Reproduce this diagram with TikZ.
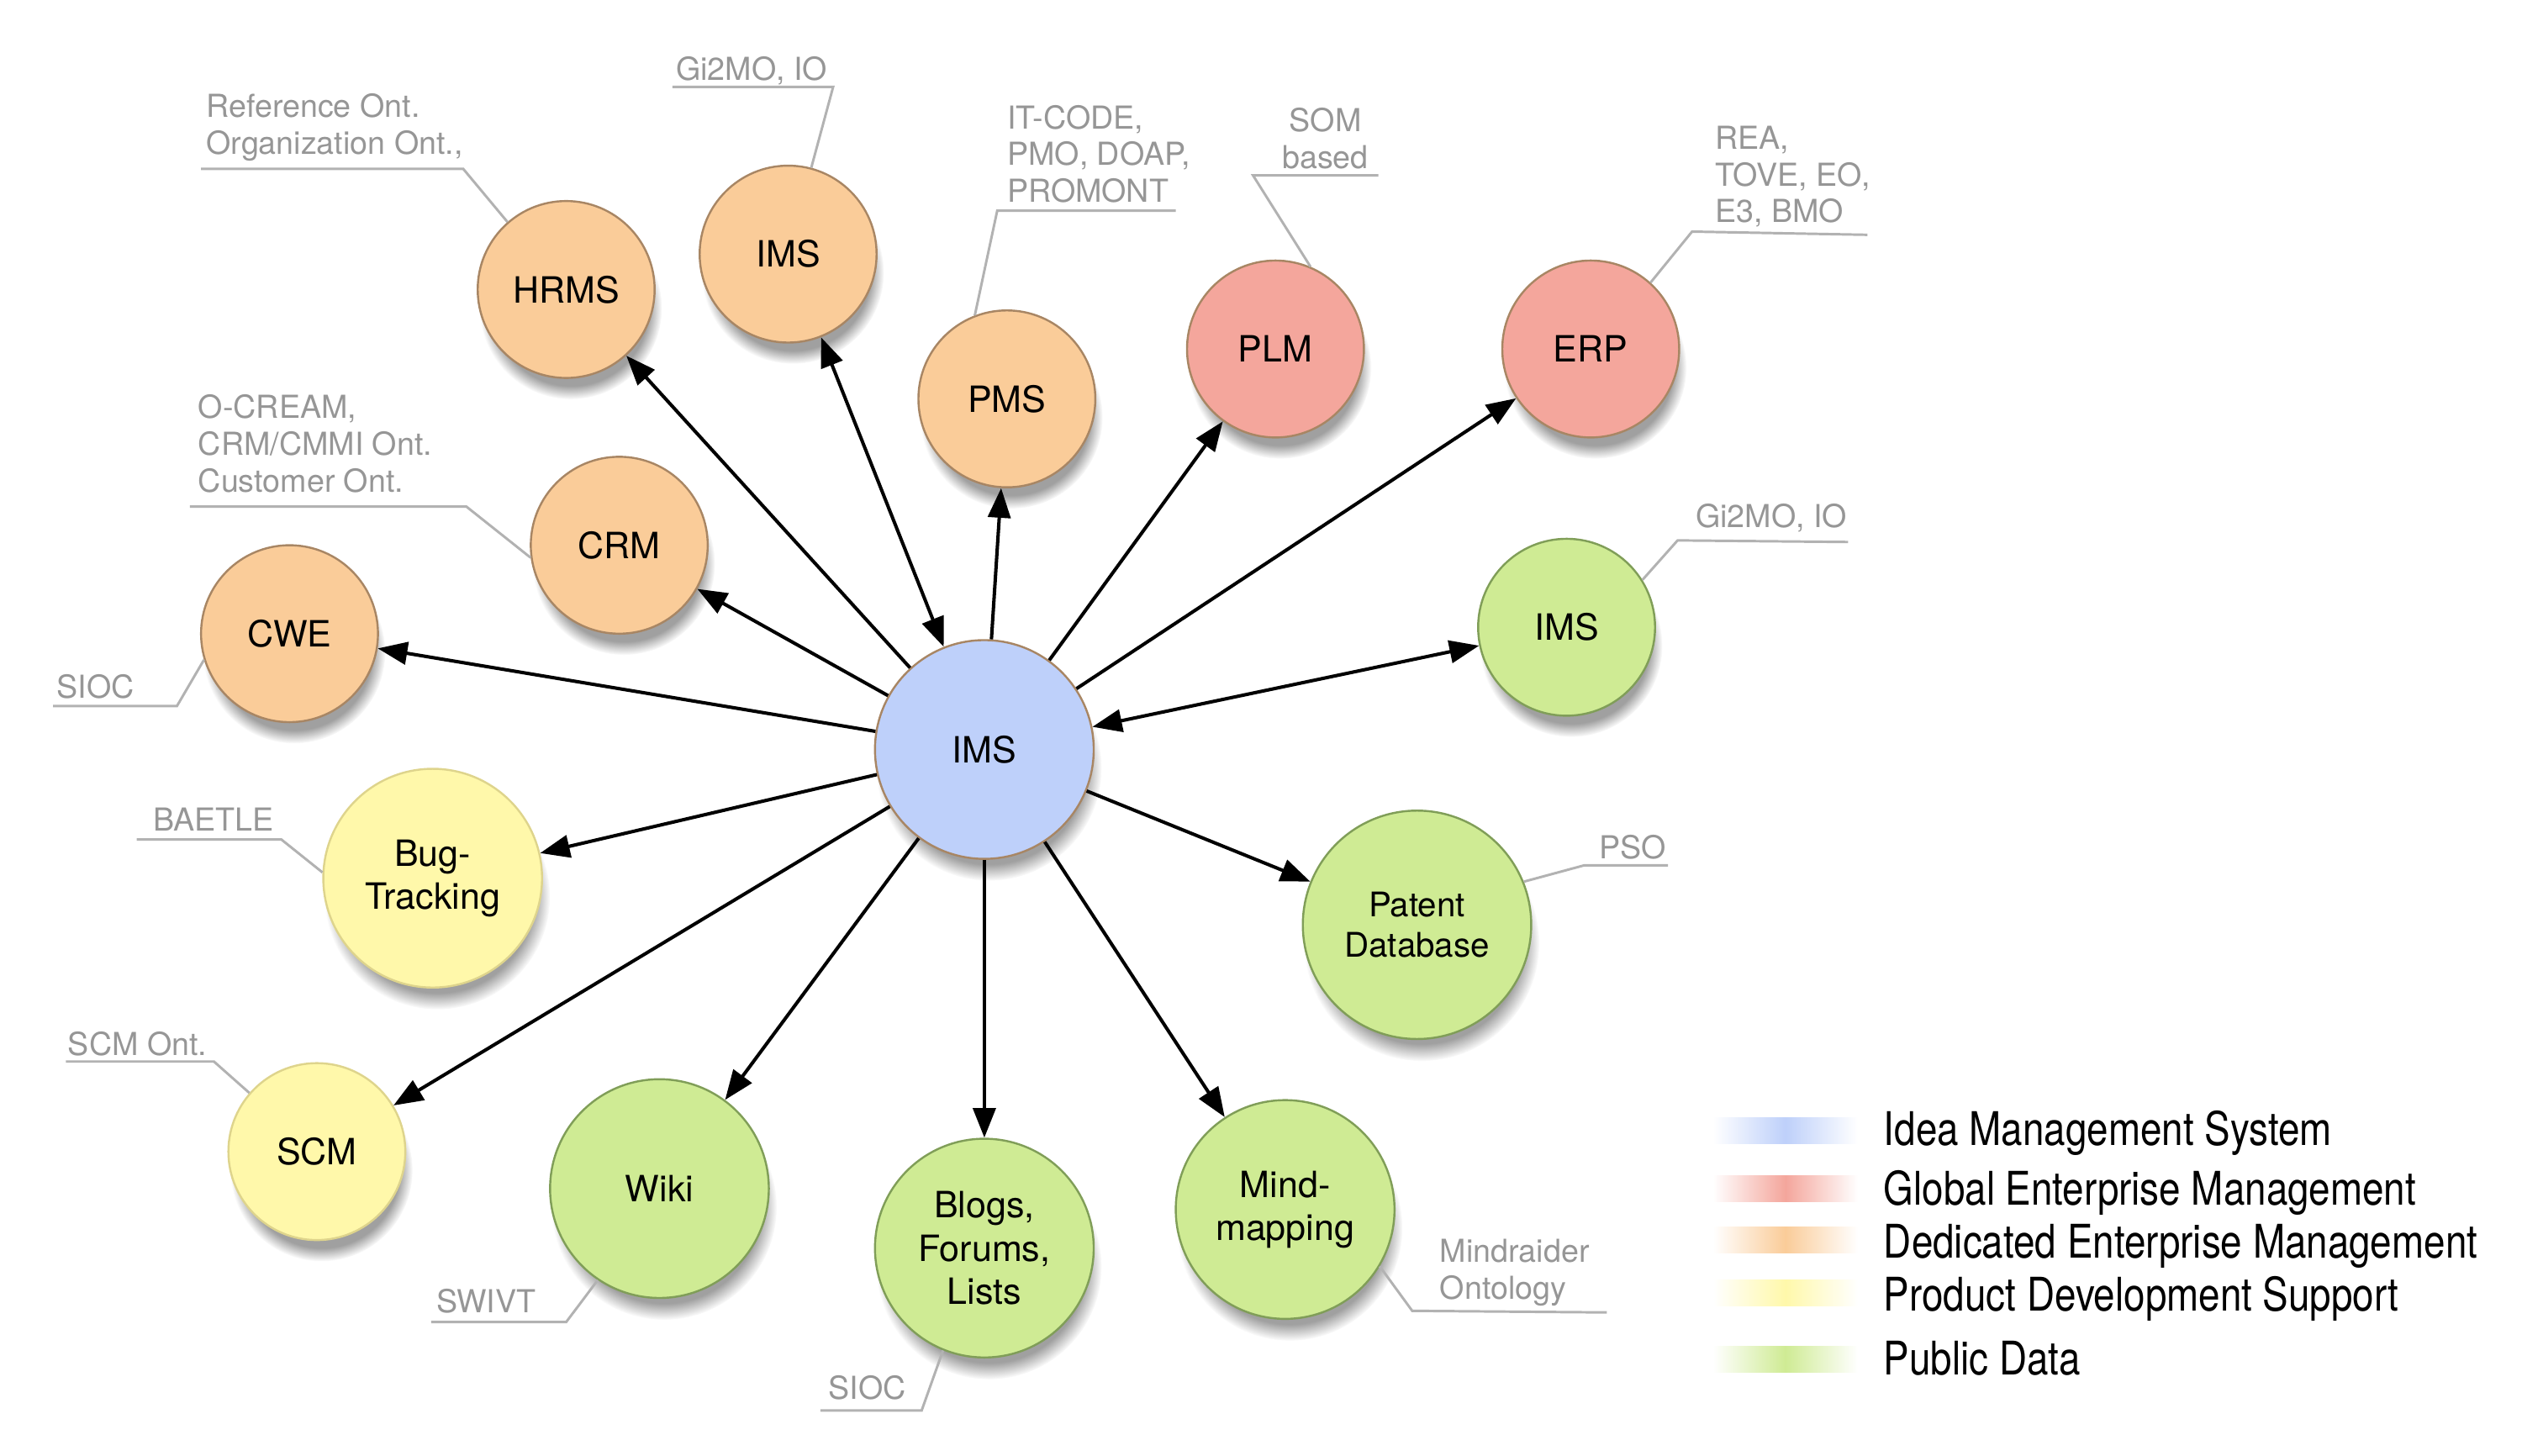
\documentclass[tikz,border=0pt]{standalone}
\usepackage{fontspec}
\setmainfont{TeX Gyre Heros}
\newfontfamily\legendfont[FakeStretch=0.83]{TeX Gyre Heros}
\usetikzlibrary{arrows.meta,shadows,fadings}

\definecolor{ideablue}{RGB}{190,208,250}
\definecolor{globred}{RGB}{244,166,156}
\definecolor{dediorange}{RGB}{250,204,153}
\definecolor{prodyellow}{RGB}{255,248,170}
\definecolor{pubgreen}{RGB}{207,235,148}
\definecolor{rimbrown}{RGB}{168,134,100}
\definecolor{rimyellow}{RGB}{222,212,140}
\definecolor{rimgreen}{RGB}{128,158,88}
\definecolor{ontgray}{RGB}{150,150,150}
\definecolor{leadgray}{RGB}{178,178,178}

\tikzset{
  sys/.style={circle, draw=rimbrown, line width=0.9pt, minimum size=27.5mm, inner sep=0pt, align=center,
    font=\fontsize{16}{19}\selectfont,
    circular drop shadow={shadow xshift=0.7mm, shadow yshift=-2.8mm, shadow scale=1.03, opacity=0.75}},
  sysbig/.style={minimum size=34mm},
  idea/.style={sys, fill=ideablue, sysbig},
  glob/.style={sys, fill=globred},
  dedi/.style={sys, fill=dediorange},
  prod/.style={sys, fill=prodyellow, draw=rimyellow},
  pub/.style={sys, fill=pubgreen, draw=rimgreen},
  flow/.style={-{Triangle[length=4.6mm,width=3.5mm]}, line width=1.5pt},
  flowboth/.style={{Triangle[length=4.6mm,width=3.5mm]}-{Triangle[length=4.6mm,width=3.5mm]}, line width=1.5pt},
  ont/.style={text=ontgray, font=\fontsize{14}{16.3}\selectfont, align=left, inner sep=0pt, anchor=north west},
  leader/.style={draw=leadgray, line width=1.1pt},
  legbar/.style={left color=white, right color=white, middle color=#1},
  legtext/.style={font=\legendfont\fontsize{20.5}{24}\selectfont, anchor=base west, inner sep=0pt}
}

\begin{document}
\begin{tikzpicture}[x=0.25mm, y=-0.25mm]
    \useasboundingbox (0,0) rectangle (1568,905);

    \node[idea] (ims) at (612,466) {IMS};
    \node[dedi] (hrms) at (352,180) {HRMS};
    \node[dedi] (imsa) at (490,158) {IMS};
    \node[dedi] (pms) at (626,248) {PMS};
    \node[glob] (plm) at (793,217) {PLM};
    \node[glob] (erp) at (989,217) {ERP};
    \node[dedi] (crm) at (385,339) {CRM};
    \node[dedi] (cwe) at (180,394) {CWE};
    \node[pub] (imsb) at (974,390) {IMS};
    \node[prod, sysbig] (bug) at (269,546) {Bug-\\Tracking};
    \node[pub, minimum size=35.5mm, font=\fontsize{15}{17.8}\selectfont] (patent) at (881,575) {Patent\\Database};
    \node[prod] (scm) at (197,716) {SCM};
    \node[pub, sysbig] (wiki) at (410,739) {Wiki};
    \node[pub, sysbig] (blogs) at (612,776) {Blogs,\\Forums,\\Lists};
    \node[pub, sysbig] (mind) at (799,752) {Mind-\\mapping};

    \draw[flow] (ims) -- (hrms);
    \draw[flowboth] (ims) -- (imsa);
    \draw[flow] (ims) -- (pms);
    \draw[flow] (ims) -- (plm);
    \draw[flow] (ims) -- (erp);
    \draw[flow] (ims) -- (crm);
    \draw[flow] (ims) -- (cwe);
    \draw[flowboth] (ims) -- (imsb);
    \draw[flow] (ims) -- (bug);
    \draw[flow] (ims) -- (patent);
    \draw[flow] (ims) -- (scm);
    \draw[flow] (ims) -- (wiki);
    \draw[flow] (ims) -- (blogs);
    \draw[flow] (ims) -- (mind);

    \node[ont] (ont1) at (128,58) {Reference Ont.\\Organization Ont.,};
    \coordinate (k1) at (288,105); \coordinate (e1) at (125,105);
    \draw[leader] (hrms.131) -- (k1) -- (e1);
    \node[ont] (ont2) at (420,35) {Gi2MO, IO};
    \coordinate (k2) at (518,54); \coordinate (e2) at (418,54);
    \draw[leader] (imsa.75) -- (k2) -- (e2);
    \node[ont] (ont3) at (626,65) {IT-CODE,\\PMO, DOAP,\\PROMONT};
    \coordinate (k3) at (620,131); \coordinate (e3) at (731,131);
    \draw[leader] (pms.111) -- (k3) -- (e3);
    \node[ont, align=center, anchor=north] (ont4) at (824,67) {SOM\\based};
    \coordinate (k4) at (779,109); \coordinate (e4) at (857,109);
    \draw[leader] (plm.67) -- (k4) -- (e4);
    \node[ont] (ont5) at (1066,78) {REA,\\TOVE, EO,\\E3, BMO};
    \coordinate (k5) at (1052,144); \coordinate (e5) at (1161,146);
    \draw[leader] (erp.48) -- (k5) -- (e5);
    \node[ont] (ont6) at (123,245) {O-CREAM,\\CRM/CMMI Ont.\\Customer Ont.};
    \coordinate (k6) at (290,315); \coordinate (e6) at (118,315);
    \draw[leader] (crm.188) -- (k6) -- (e6);
    \node[ont] (ont7) at (1054,313) {Gi2MO, IO};
    \coordinate (k7) at (1043,336); \coordinate (e7) at (1149,337);
    \draw[leader] (imsb.32) -- (k7) -- (e7);
    \node[ont] (ont8) at (35,419) {SIOC};
    \coordinate (k8) at (110,439); \coordinate (e8) at (33,439);
    \draw[leader] (cwe.197) -- (k8) -- (e8);
    \node[ont] (ont9) at (95,502) {BAETLE};
    \coordinate (k9) at (175,522); \coordinate (e9) at (85,522);
    \draw[leader] (bug.177) -- (k9) -- (e9);
    \node[ont] (ont10) at (994,519) {PSO};
    \coordinate (k10) at (985,538); \coordinate (e10) at (1037,538);
    \draw[leader] (patent.22) -- (k10) -- (e10);
    \node[ont] (ont11) at (42,641) {SCM Ont.};
    \coordinate (k11) at (133,660); \coordinate (e11) at (41,660);
    \draw[leader] (scm.139) -- (k11) -- (e11);
    \node[ont] (ont12) at (271,801) {SWIVT};
    \coordinate (k12) at (352,822); \coordinate (e12) at (268,822);
    \draw[leader] (wiki.236) -- (k12) -- (e12);
    \node[ont] (ont13) at (515,855) {SIOC};
    \coordinate (k13) at (573,877); \coordinate (e13) at (510,877);
    \draw[leader] (blogs.248) -- (k13) -- (e13);
    \node[ont] (ont14) at (895,770) {Mindraider\\Ontology};
    \coordinate (k14) at (878,815); \coordinate (e14) at (999,816);
    \draw[leader] (mind.329) -- (k14) -- (e14);

    \shade[legbar=ideablue] (1065,695) rectangle (1155,711);
    \shade[legbar=globred] (1065,731) rectangle (1155,747);
    \shade[legbar=dediorange] (1065,763) rectangle (1155,779);
    \shade[legbar=prodyellow] (1065,796) rectangle (1155,812);
    \shade[legbar=pubgreen] (1065,837) rectangle (1155,853);
    \node[legtext] (leg1) at (1171,712) {Idea Management System};
    \node[legtext] (leg2) at (1171,749) {Global Enterprise Management};
    \node[legtext] (leg3) at (1171,782) {Dedicated Enterprise Management};
    \node[legtext] (leg4) at (1171,815) {Product Development Support};
    \node[legtext] (leg5) at (1171,855) {Public Data};
\end{tikzpicture}
\end{document}
